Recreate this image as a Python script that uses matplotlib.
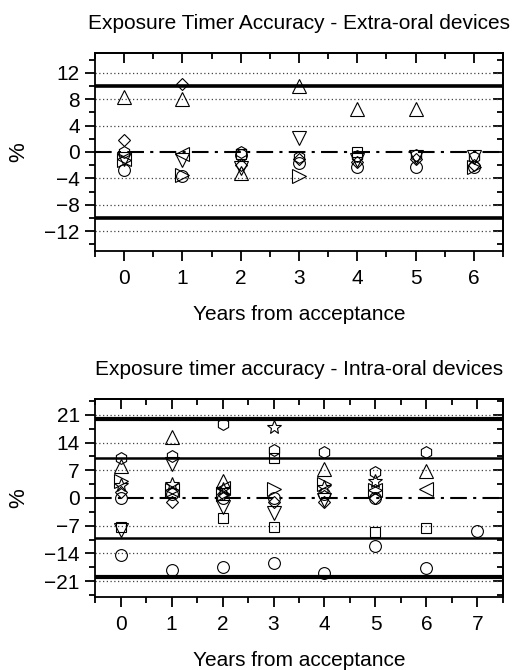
import numpy as np
import matplotlib
matplotlib.use("Agg")
import matplotlib.pyplot as plt
from matplotlib.ticker import MultipleLocator

plt.rcParams['font.family'] = ['Liberation Sans', 'DejaVu Sans']

nan = np.nan

# Extra-oral devices, years 0..6
years_ext = [0, 1, 2, 3, 4, 5, 6]
ext_square = [nan, nan, -0.3, nan, 0.0, nan, nan]
ext_circle = [-2.7, -3.6, -0.5, -1.7, -2.2, -2.2, -2.3]
ext_tri_up = [8.3, 8.0, -3.2, 10.0, 6.5, 6.5, nan]
ext_tri_down = [-1.0, -1.2, -2.5, 2.1, -1.2, -0.8, -0.8]
ext_diamond = [1.8, 10.3, -2.0, -1.0, -1.5, -1.0, -2.0]
ext_tri_left = [-1.0, -0.3, nan, nan, nan, nan, nan]
ext_tri_right = [-1.2, -3.5, nan, -3.7, nan, nan, -2.3]
ext_hexagon = [0.0, nan, 0.0, -0.8, -0.6, -0.5, -0.7]

# Intra-oral devices, years 0..7
years_int = [0, 1, 2, 3, 4, 5, 6, 7]
int_circle_a = [-14.4, -18.2, -17.4, -16.5, -18.9, -12.2, -17.8, -8.3]
int_circle_b = [0.0, 1.0, 0.0, 0.0, 1.0, 0.0, nan, nan]
int_square_a = [-7.3, nan, -5.0, -7.3, nan, -8.6, -7.5, nan]
int_square_b = [nan, nan, nan, 10.0, nan, nan, nan, nan]
int_tri_up = [8.0, 15.3, 4.4, nan, 7.4, nan, 6.9, nan]
int_tri_down = [-8.1, 8.6, -2.3, -3.9, -0.5, nan, nan, nan]
int_hexagon = [10.0, 10.5, 18.7, 12.0, 11.5, 6.5, 11.5, nan]
int_star = [3.2, 3.5, 2.3, 17.8, 2.8, 4.4, nan, nan]
int_tri_right = [4.4, 2.0, 1.0, 2.3, 3.6, 2.0, nan, nan]
int_tri_left = [nan, 2.0, 2.5, nan, nan, 2.0, 2.3, nan]
int_diamond = [1.5, -1.0, 1.0, -1.0, -1.0, 0.0, nan, nan]

ext_series = [
    (ext_square, 's'), (ext_circle, 'o'), (ext_tri_up, '^'),
    (ext_tri_down, 'v'), (ext_diamond, 'D'), (ext_tri_left, '<'),
    (ext_tri_right, '>'), (ext_hexagon, 'h'),
]
int_series = [
    (int_circle_a, 'o'), (int_circle_b, 'o'), (int_square_a, 's'),
    (int_square_b, 's'), (int_tri_up, '^'), (int_tri_down, 'v'),
    (int_hexagon, 'h'), (int_star, '*'), (int_tri_right, '>'),
    (int_tri_left, '<'), (int_diamond, 'D'),
]

marker_sizes = {'^': 9.5, 'v': 9.5, '<': 9.5, '>': 9.5, 'o': 8.5,
                'h': 8.5, 's': 7, 'D': 6.5, '*': 10}


def draw_markers(ax, x, series):
    for vals, m in series:
        ax.plot(x, vals, linestyle='none', marker=m, markersize=marker_sizes[m],
                markerfacecolor='none', markeredgecolor='black',
                markeredgewidth=0.8, zorder=5)


def ref_lines(ax, dotted, thick, thick_lw, thin=(), thin_lw=1.8):
    for g in dotted:
        ax.axhline(g, color='#444444', linestyle=(0, (1, 2)), linewidth=0.9, zorder=1)
    for g in thick:
        ax.axhline(g, color='black', linewidth=thick_lw, zorder=2)
    for g in thin:
        ax.axhline(g, color='black', linewidth=thin_lw, zorder=2)
    ax.axhline(0, color='black', linestyle=(0, (8, 3, 1.5, 3)), linewidth=1.5, zorder=2)


def finish_axes(ax, yt, ylab, yminor, title):
    ax.set_yticks(yt)
    ax.set_yticklabels(ylab)
    ax.yaxis.set_minor_locator(MultipleLocator(yminor))
    ax.xaxis.set_major_locator(MultipleLocator(1))
    ax.xaxis.set_minor_locator(MultipleLocator(0.5))
    ax.set_title(title, fontsize=15, pad=17)
    ax.set_xlabel('Years from acceptance', fontsize=15, labelpad=12)
    ax.set_ylabel('%', fontsize=16, labelpad=11)
    for spine in ax.spines.values():
        spine.set_linewidth(1.3)
    ax.tick_params(which='both', direction='out', width=1.3, labelsize=15,
                   left=True, bottom=True, top=False, right=False)
    ax.tick_params(which='major', length=7)
    ax.tick_params(which='minor', length=4)
    ax.tick_params(axis='x', which='major', pad=6)
    ax.tick_params(axis='y', which='major', pad=4)
    # inward ticks on top and right
    tx = ax.secondary_xaxis('top')
    tx.xaxis.set_major_locator(MultipleLocator(1))
    tx.xaxis.set_minor_locator(MultipleLocator(0.5))
    tx.tick_params(which='both', direction='in', width=1.3, labeltop=False)
    tx.tick_params(which='major', length=7)
    tx.tick_params(which='minor', length=4)
    tx.spines['top'].set_linewidth(1.3)
    ry = ax.secondary_yaxis('right')
    ry.set_yticks(yt)
    ry.yaxis.set_minor_locator(MultipleLocator(yminor))
    ry.tick_params(which='both', direction='in', width=1.3, labelright=False)
    ry.tick_params(which='major', length=7)
    ry.tick_params(which='minor', length=4)
    ry.spines['right'].set_linewidth(1.3)


fig = plt.figure(figsize=(5.2, 6.7), dpi=100)

# top panel
ax1 = fig.add_axes([0.1827, 0.6254, 0.7846, 0.2955])
ax1.set_xlim(-0.5, 6.5)
ax1.set_ylim(-15, 15)
ref_lines(ax1, [-12, -8, -4, 4, 8, 12], [-10, 10], 2.6)
draw_markers(ax1, years_ext, ext_series)
finish_axes(ax1, [-12, -8, -4, 0, 4, 8, 12],
            ['\u221212', '\u22128', '\u22124', '0', '4', '8', '12'], 2,
            'Exposure Timer Accuracy - Extra-oral devices')

# bottom panel
ax2 = fig.add_axes([0.1827, 0.1090, 0.7846, 0.2955])
ax2.set_xlim(-0.5, 7.5)
ax2.set_ylim(-25, 25)
ref_lines(ax2, [-21, -14, -7, 7, 14, 21], [-20, 20], 3.0, [-10, 10], 1.8)
draw_markers(ax2, years_int, int_series)
finish_axes(ax2, [-21, -14, -7, 0, 7, 14, 21],
            ['\u221221', '\u221214', '\u22127', '0', '7', '14', '21'], 3.5,
            'Exposure timer accuracy - Intra-oral devices')

fig.savefig('out.png', dpi=100)
